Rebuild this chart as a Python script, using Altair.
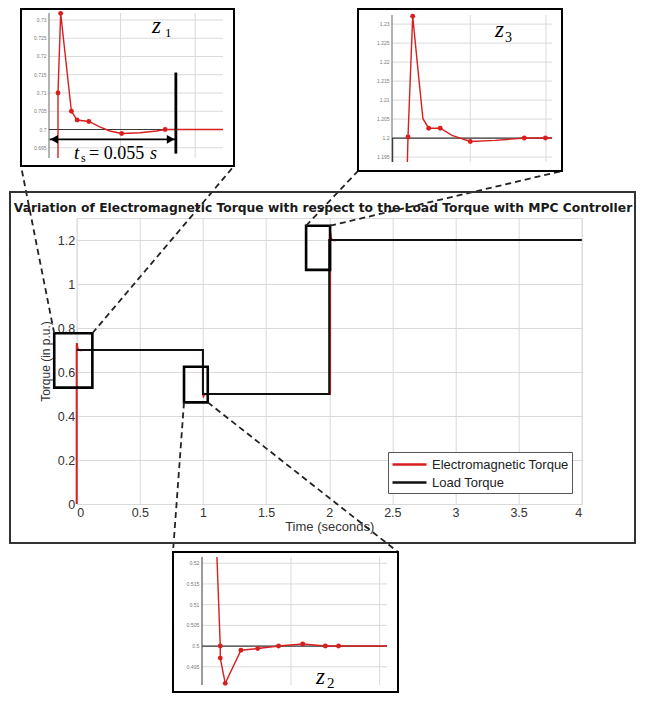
import altair as alt
import pandas as pd

# ================= DATA =================
series_names = ["Electromagnetic Torque", "Load Torque"]

# Load torque steps in the main chart (time in s, torque in p.u.)
load_t = [0, 1, 1, 2, 2, 4]
load_v = [0.7, 0.7, 0.5, 0.5, 1.2, 1.2]

# z1: start-up transient (time in ms after t = 0 s)
z1_t = [0, 0, 1.25, 6.25, 8.9, 14.4, 19.5, 24.2, 29.7, 38.3, 46, 50, 80]
z1_v = [0.0, 0.71, 0.7318, 0.705, 0.7026, 0.7022, 0.7007, 0.6996, 0.6989, 0.6991, 0.6996, 0.7, 0.7]
z1_mark_t = [0, 1.25, 6.25, 8.9, 14.4, 29.7, 50]
z1_mark_v = [0.71, 0.7318, 0.705, 0.7026, 0.7022, 0.6989, 0.7]
z1_load_t = [-5, 80]
z1_load_v = [0.7, 0.7]
ts_arrow_t = [-3.9, 54.7]
ts_arrow_v = 0.6973
ts_bar_t = 55
ts_bar_v = [0.6934, 0.7156]

# z2: step down at t = 1 s (ms after the step)
z2_t = [0, 1.56, 1.56, 3.9, 11.25, 19.1, 28.9, 40.2, 50.8, 57, 80]
z2_v = [0.525, 0.5, 0.4971, 0.491, 0.499, 0.4994, 0.5, 0.5005, 0.5, 0.5, 0.5]
z2_mark_t = [1.56, 1.56, 3.9, 11.25, 19.1, 28.9, 40.2, 50.8, 57]
z2_mark_v = [0.5, 0.4971, 0.491, 0.499, 0.4994, 0.5, 0.5005, 0.5, 0.5]
z2_load_t = [-8, 80]
z2_load_v = [0.5, 0.5]

# z3: step up at t = 2 s (ms after the step)
z3_t = [6.9, 7.2, 9.4, 12.2, 14.2, 16.9, 22.3, 27.8, 36.4, 48.1, 61.7, 71.6, 80]
z3_v = [0.5, 1.2003, 1.2321, 1.2161, 1.2051, 1.2026, 1.2026, 1.2007, 1.1991, 1.1994, 1.2, 1.2, 1.2]
z3_mark_t = [7.2, 9.4, 16.9, 22.3, 36.4, 61.7, 71.6]
z3_mark_v = [1.2003, 1.2321, 1.2026, 1.2026, 1.1991, 1.2, 1.2]
z3_load_t = [0, 0, 80]
z3_load_v = [0.5, 1.2, 1.2]

# zoom rectangles in the main chart (s, p.u.)
box_x1 = [-0.178, 0.85, 1.817]
box_x2 = [0.124, 1.038, 2.007]
box_y1 = [0.529, 0.462, 1.064]
box_y2 = [0.776, 0.624, 1.265]

x_ticks = [0, 0.5, 1, 1.5, 2, 2.5, 3, 3.5, 4]
y_ticks = [0, 0.2, 0.4, 0.6, 0.8, 1, 1.2]
z1_yticks = [0.695, 0.7, 0.705, 0.71, 0.715, 0.72, 0.725, 0.73]
z2_yticks = [0.495, 0.5, 0.505, 0.51, 0.515, 0.52]
z3_yticks = [1.195, 1.2, 1.205, 1.21, 1.215, 1.22, 1.225, 1.23]
z1_xgrid = [29.2, 64]
z2_xgrid = [34.7, 76.25]
z3_xgrid = [36.4, 71.9]

title_text = "Variation of Electromagnetic Torque with respect to the Load Torque with MPC Controller"

# ================= LAYOUT (page pixels) =================
RED = "#d81e1e"
GRID = "#d9d9d9"
SANS = "Liberation Sans"
SERIF = "Liberation Serif"

PAGE_X0, PAGE_Y0 = 8, 8                     # body margin
SVG_RIGHT, SVG_BOTTOM = 637, 694            # page coords of the drawing's far edges
MX0, MY0, MW, MH = 76.7, 218.0, 505, 286    # main plot area
Z1 = dict(x0=49, y0=13, w=174, h=145, xdom=[-4.2, 77], ydom=[0.6922, 0.7319], frame=(21, 234, 9, 166))
Z3 = dict(x0=392, y0=15, w=160, h=147, xdom=[-0.3, 74.7], ydom=[1.1937, 1.2324], frame=(358, 562, 9, 171))
Z2 = dict(x0=202, y0=557, w=185, h=128, xdom=[-7, 79.7], ydom=[0.4906, 0.5215], frame=(173, 398, 552, 692))
MAIN_FRAME = (10, 635, 192, 543)

one = pd.DataFrame({"a": [0]})


def rx(px):
    return px - MX0


def ry(py):
    return py - MY0


def to_main_x(px):
    return (px - MX0) / (MW / 4.0)


def to_main_y(py):
    return (MY0 + MH - py) / (MH / 1.3)


def frame_rect(fr, color="black", width=2.0):
    return alt.Chart(one).mark_rect(fill="transparent", stroke=color, strokeWidth=width).encode(
        x=alt.value(rx(fr[0])), x2=alt.value(rx(fr[1])), y=alt.value(ry(fr[2])), y2=alt.value(ry(fr[3]))
    )


def label(text, x, y, size, font=SERIF, style="normal", weight="normal", align="left",
          baseline="alphabetic", color="black"):
    # x, y in page pixels
    return alt.Chart(one).mark_text(
        text=text, font=font, fontSize=size, fontStyle=style, fontWeight=weight,
        align=align, baseline=baseline, color=color
    ).encode(x=alt.value(rx(x)), y=alt.value(ry(y)))


def inset(cfg, lt, lv, mt, mv, ldt, ldv, xgrid, yticks, extras, label_size=5.0, axis_color="#8a8a8a"):
    xdom, ydom = cfg["xdom"], cfg["ydom"]
    xs = alt.Scale(domain=xdom, range=[rx(cfg["x0"]), rx(cfg["x0"] + cfg["w"])], nice=False, zero=False, clamp=True)
    ys = alt.Scale(domain=ydom, range=[ry(cfg["y0"] + cfg["h"]), ry(cfg["y0"])], nice=False, zero=False, clamp=True)

    def X(f):
        return alt.X(f, scale=xs, axis=None)

    def Y(f):
        return alt.Y(f, scale=ys, axis=None)

    hg = pd.DataFrame({"v": yticks, "a": [xdom[0]] * len(yticks), "b": [xdom[1]] * len(yticks),
                       "lab": ["{:g}".format(v) for v in yticks]})
    vg = pd.DataFrame({"t": xgrid, "a": [ydom[0]] * len(xgrid), "b": [ydom[1]] * len(xgrid)})
    ax = pd.DataFrame({"t": [xdom[0]], "a": [ydom[0]], "b": [ydom[1]]})
    load_df = pd.DataFrame({"t": ldt, "v": ldv, "i": list(range(len(ldt)))})
    line_df = pd.DataFrame({"t": lt, "v": lv, "i": list(range(len(lt)))})
    mark_df = pd.DataFrame({"t": mt, "v": mv})

    hgrid = alt.Chart(hg).mark_rule(color=GRID, strokeWidth=1).encode(x=X("a:Q"), x2="b:Q", y=Y("v:Q"))
    vgrid = alt.Chart(vg).mark_rule(color=GRID, strokeWidth=1).encode(x=X("t:Q"), y=Y("a:Q"), y2="b:Q")
    yaxis = alt.Chart(ax).mark_rule(color=axis_color, strokeWidth=1.3).encode(x=X("t:Q"), y=Y("a:Q"), y2="b:Q")
    ylabels = alt.Chart(hg).mark_text(align="right", baseline="middle", dx=-2.5, fontSize=label_size,
                                      color="#7a7a7a", font=SANS).encode(x=X("a:Q"), y=Y("v:Q"), text="lab:N")
    load = alt.Chart(load_df).mark_line(color="#3a3a3a", strokeWidth=1.2).encode(x=X("t:Q"), y=Y("v:Q"), order="i:Q")
    red = alt.Chart(line_df).mark_line(color=RED, strokeWidth=1.4).encode(x=X("t:Q"), y=Y("v:Q"), order="i:Q")
    pts = alt.Chart(mark_df).mark_circle(color=RED, size=24, opacity=1).encode(x=X("t:Q"), y=Y("v:Q"))
    layers = [hgrid, vgrid, yaxis, ylabels, load, red, pts] + [e(X, Y) for e in extras] + [frame_rect(cfg["frame"])]
    return alt.layer(*layers)


# ---- z1 extras: settling-time annotation ----
def z1_bar(X, Y):
    df = pd.DataFrame({"t": [ts_bar_t], "v": [ts_bar_v[0]], "v2": [ts_bar_v[1]]})
    return alt.Chart(df).mark_rule(color="black", strokeWidth=2.8).encode(x=X("t:Q"), y=Y("v:Q"), y2="v2:Q")


def z1_arrow(X, Y):
    df = pd.DataFrame({"t": [ts_arrow_t[0]], "t2": [ts_arrow_t[1]], "v": [ts_arrow_v]})
    return alt.Chart(df).mark_rule(color="black", strokeWidth=1.6).encode(x=X("t:Q"), x2="t2:Q", y=Y("v:Q"))


def z1_heads(X, Y):
    off = 2.1
    df = pd.DataFrame({"t": [ts_arrow_t[0] + off, ts_arrow_t[1] - off], "v": [ts_arrow_v] * 2,
                       "s": ["triangle-left", "triangle-right"]})
    return alt.Chart(df).mark_point(filled=True, color="black", size=80, opacity=1).encode(
        x=X("t:Q"), y=Y("v:Q"), shape=alt.Shape("s:N", scale=None, legend=None))


def z1_texts(X, Y):
    return alt.layer(
        label("t", 74, 159, 19, style="italic"),
        label("s", 81, 162, 12),
        label("= 0.055", 89, 159, 18),
        label("s", 150, 159, 18, style="italic"),
        label("z", 152, 33, 23, style="italic"),
        label("1", 165, 37, 13),
    )


def z3_texts(X, Y):
    return alt.layer(label("z", 495, 37, 23, style="italic"), label("3", 505, 42, 14))


def z2_texts(X, Y):
    return alt.layer(label("z", 316, 684, 23, style="italic"), label("2", 327, 688, 15))


z1 = inset(Z1, z1_t, z1_v, z1_mark_t, z1_mark_v, z1_load_t, z1_load_v, z1_xgrid, z1_yticks,
           [z1_bar, z1_arrow, z1_heads, z1_texts])
z3 = inset(Z3, z3_t, z3_v, z3_mark_t, z3_mark_v, z3_load_t, z3_load_v, z3_xgrid, z3_yticks, [z3_texts])
z2 = inset(Z2, z2_t, z2_v, z2_mark_t, z2_mark_v, z2_load_t, z2_load_v, z2_xgrid, z2_yticks, [z2_texts],
           label_size=5.2, axis_color="#666")

# ================= MAIN CHART =================
em_t = ([t / 1000.0 for t in z1_t] + [load_t[1]] + [1 + t / 1000.0 for t in z2_t]
        + [load_t[3]] + [2 + t / 1000.0 for t in z3_t] + [load_t[-1]])
em_v = z1_v + [load_v[1]] + z2_v + [load_v[3]] + z3_v + [load_v[-1]]
main_df = pd.DataFrame({
    "t": em_t + load_t,
    "v": em_v + load_v,
    "series": [series_names[0]] * len(em_t) + [series_names[1]] * len(load_t),
    "i": list(range(len(em_t))) + list(range(len(load_t))),
})

mxs = alt.Scale(domain=[0, 4], range=[0, MW], nice=False, zero=False)
mys = alt.Scale(domain=[0, 1.3], range=[MH, 0], nice=False, zero=False)

lines = alt.Chart(main_df).mark_line(strokeWidth=2).encode(
    x=alt.X("t:Q", scale=mxs, axis=alt.Axis(
        values=x_ticks, format="~g", title="Time (seconds)", grid=True, gridColor=GRID,
        ticks=False, domain=False, labelFont=SANS, labelFontSize=12.5, labelColor="#333",
        labelPadding=2, titleFont=SANS, titleFontSize=13,
        titleFontWeight="normal", titleColor="#333", titlePadding=2)),
    y=alt.Y("v:Q", scale=mys, axis=alt.Axis(
        values=y_ticks, format="~g", title="Torque (in p.u.)", grid=True, gridColor=GRID,
        ticks=False, domain=False, labelFont=SANS, labelFontSize=12.5, labelColor="#333",
        labelPadding=2, titleFont=SANS, titleFontSize=12,
        titleFontWeight="normal", titleColor="#333", titlePadding=5)),
    color=alt.Color("series:N", scale=alt.Scale(domain=series_names, range=[RED, "#111111"]),
                    legend=alt.Legend(orient="none", legendX=rx(388), legendY=ry(452), title=None,
                                      symbolType="M-2.125,0H2.125", symbolSize=256, symbolStrokeWidth=2.5,
                                      symbolOffset=9, labelOffset=13,
                                      labelFont=SANS, labelFontSize=13, labelColor="#222",
                                      strokeColor="#555", fillColor="white", padding=3,
                                      rowPadding=1)),
    order=alt.Order("i:Q"),
)

box_df = pd.DataFrame({"x1": box_x1, "x2": box_x2, "y1": box_y1, "y2": box_y2})
boxes = alt.Chart(box_df).mark_rect(fill="transparent", stroke="black", strokeWidth=2.6, clip=False).encode(
    x=alt.X("x1:Q", scale=mxs), x2="x2:Q",
    y=alt.Y("y1:Q", scale=mys), y2="y2:Q",
)

# connectors from the zoom rectangles to the inset frames
f1, f3, f2 = Z1["frame"], Z3["frame"], Z2["frame"]
targets = [(f1[0], f1[3]), (f1[1], f1[3]), (f3[0], f3[3]), (f3[1], f3[3]), (f2[0], f2[2]), (f2[1], f2[2])]
conn_df = pd.DataFrame({
    "x": [box_x1[0], box_x2[0], box_x1[2], box_x2[2], box_x1[1], box_x2[1]],
    "y": [box_y2[0], box_y2[0], box_y2[2], box_y2[2], box_y1[1], box_y1[1]],
    "x2": [to_main_x(p[0]) for p in targets],
    "y2": [to_main_y(p[1]) for p in targets],
})
conns = alt.Chart(conn_df).mark_rule(color="#222", strokeWidth=1.8, strokeDash=[6, 4], clip=False).encode(
    x=alt.X("x:Q", scale=mxs), x2="x2:Q",
    y=alt.Y("y:Q", scale=mys), y2="y2:Q",
)

main_frame = frame_rect(MAIN_FRAME, color="#333", width=2)
main_title = label(title_text, 323, 208, 12.3, font="DejaVu Sans", weight="bold", align="center",
                   baseline="middle", color="#1a1a1a")

main = alt.layer(lines, boxes, conns, main_frame, main_title)

pad = {"left": MX0 - PAGE_X0, "top": MY0 - PAGE_Y0,
       "right": SVG_RIGHT - (MX0 + MW), "bottom": SVG_BOTTOM - (MY0 + MH)}

chart = alt.layer(main, z1, z3, z2).resolve_scale(x="independent", y="independent").properties(
    width=MW, height=MH, padding=pad, autosize=alt.AutoSizeParams(type="none")
).configure_view(stroke="#8a8a8a", strokeWidth=1).configure(background="white")

chart.save("out.html", embed_options={"renderer": "svg", "actions": False})
